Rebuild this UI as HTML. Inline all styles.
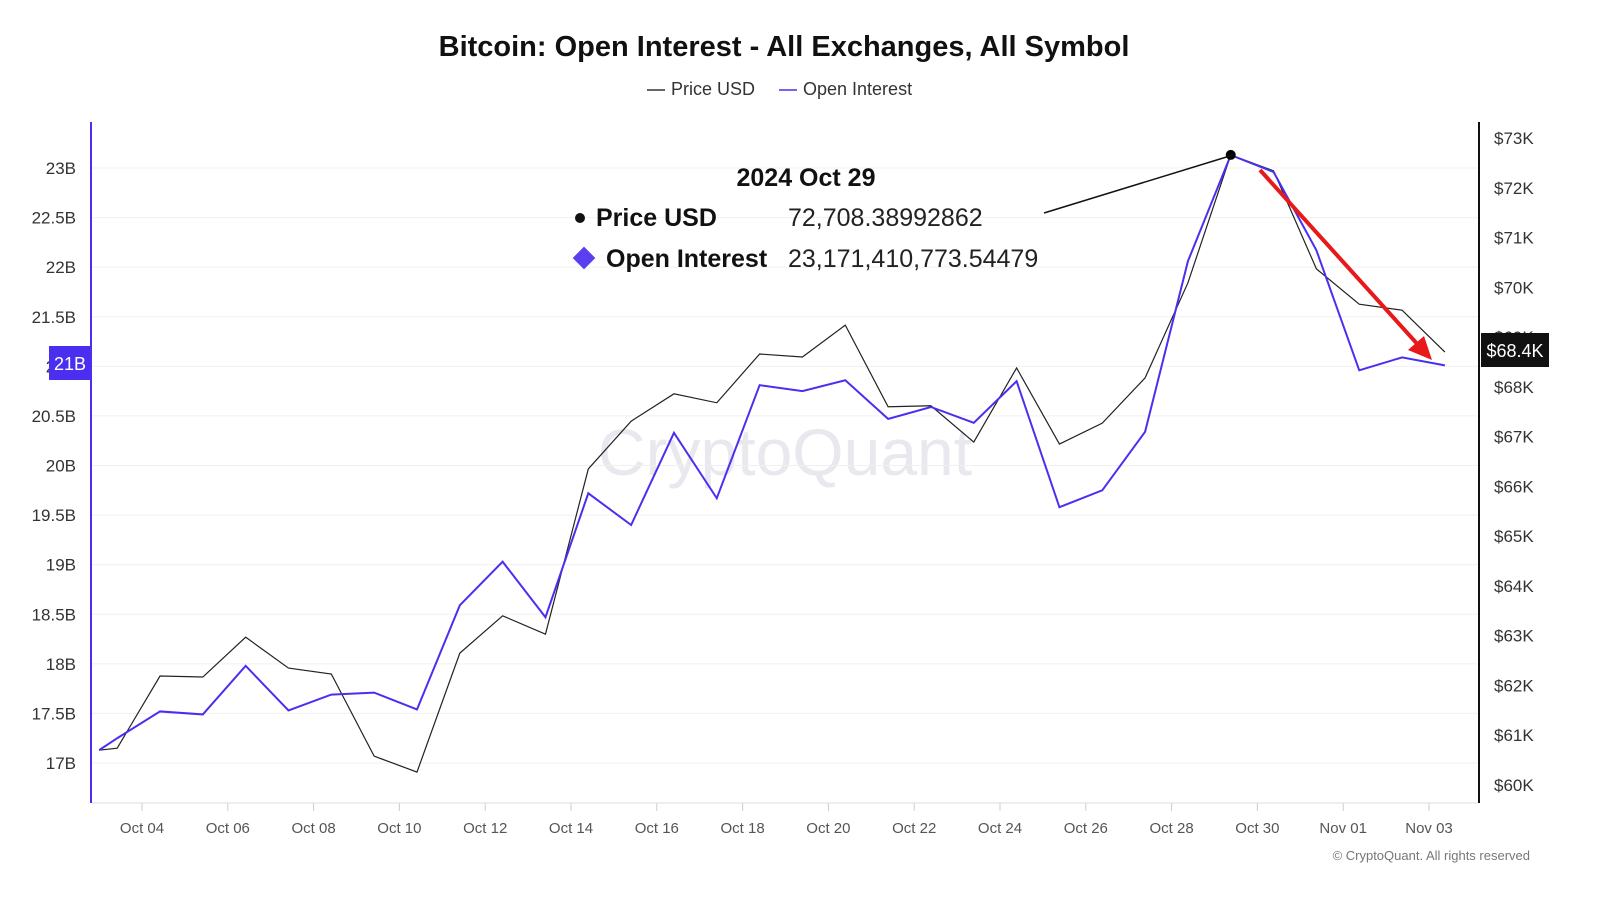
<!DOCTYPE html>
<html><head><meta charset="utf-8"><style>
body{margin:0;background:#fff;width:1600px;height:900px;overflow:hidden;font-family:"Liberation Sans",sans-serif}
svg text{font-family:"Liberation Sans",sans-serif}
</style></head><body>
<svg id="chart" width="1600" height="900">
<text x="784" y="56" text-anchor="middle" font-size="29" font-weight="bold" fill="#111">Bitcoin: Open Interest - All Exchanges, All Symbol</text>
<g>
<g><line x1="647" y1="90" x2="665" y2="90" stroke="#333" stroke-width="1.5"/><text x="671" y="95" font-size="18" fill="#333">Price USD</text></g>
<g><line x1="779" y1="90" x2="797" y2="90" stroke="#4a2ff0" stroke-width="1.5"/><text x="803" y="95" font-size="18" fill="#333">Open Interest</text></g>
</g>
<text x="785" y="475" text-anchor="middle" font-size="66" fill="#e8e8ee">CryptoQuant</text>
<g id="grid"></g><g id="axes"></g><g id="series"></g>
<g>
<line x1="1044" y1="213" x2="1233" y2="155" stroke="#111" stroke-width="1.5"/>
<text x="806" y="186" text-anchor="middle" font-size="25" font-weight="bold" fill="#111">2024 Oct 29</text>
<circle cx="580" cy="218" r="5" fill="#111"/>
<text x="596" y="226" font-size="25" font-weight="bold" fill="#111">Price USD</text>
<text x="788" y="226" font-size="25" fill="#222">72,708.38992862</text>
<rect x="576" y="250" width="16" height="16" fill="#5a3ff0" transform="rotate(45 584 258)"/>
<text x="606" y="267" font-size="25" font-weight="bold" fill="#111">Open Interest</text>
<text x="788" y="267" font-size="25" fill="#222">23,171,410,773.54479</text>
</g>
<g>
<line x1="1260" y1="170" x2="1420" y2="347" stroke="#e8191b" stroke-width="4"/>
<polygon points="1432,360 1408,350 1424,336" fill="#e8191b"/>
</g>
<rect x="1481" y="333" width="68" height="34" fill="#111"/>
<text x="1515" y="357" text-anchor="middle" font-size="18" fill="#fff">$68.4K</text>
<rect x="49" y="346" width="42" height="34" fill="#4a2ff0"/>
<text x="70" y="370" text-anchor="middle" font-size="18" fill="#fff">21B</text>
<text x="1530" y="860" text-anchor="end" font-size="13" fill="#777">© CryptoQuant. All rights reserved</text>
</svg>
<script>
const days=[-1.42,-1,0,1,2,3,4,5,6,7,8,9,10,11,12,13,14,15,16,17,18,19,20,21,22,23,24,25,26,27,28,29,30];
const oiValues=[17.13,17.25,17.52,17.49,17.98,17.53,17.69,17.71,17.54,18.59,19.03,18.47,19.72,19.40,20.33,19.67,20.81,20.75,20.86,20.47,20.59,20.43,20.85,19.58,19.75,20.34,22.06,23.13,22.96,22.17,20.96,21.09,21.01];
const priceValues=[60.70,60.74,62.19,62.17,62.97,62.35,62.23,60.58,60.26,62.65,63.40,63.03,66.35,67.31,67.86,67.68,68.66,68.60,69.24,67.60,67.62,66.89,68.38,66.85,67.27,68.18,70.09,72.66,72.34,70.37,69.66,69.54,68.70];
const leftTicks=[17,17.5,18,18.5,19,19.5,20,20.5,21,21.5,22,22.5,23];
const rightTicks=[60,61,62,63,64,65,66,67,68,69,70,71,72,73];
const xLabels=["Oct 04","Oct 06","Oct 08","Oct 10","Oct 12","Oct 14","Oct 16","Oct 18","Oct 20","Oct 22","Oct 24","Oct 26","Oct 28","Oct 30","Nov 01","Nov 03"];
const NS="http://www.w3.org/2000/svg";
const xS=d=>160+42.83*d;
const tickX=i=>142+85.8*i;
const yL=v=>168+(23-v)*99.17;
const yR=v=>138+(73-v)*49.77;
function mk(t,a,p){const e=document.createElementNS(NS,t);for(const k in a)e.setAttribute(k,a[k]);p.appendChild(e);return e;}
const grid=document.getElementById('grid'),axes=document.getElementById('axes'),ser=document.getElementById('series');
leftTicks.forEach(v=>{
 const g=mk('line',{x1:92,x2:1478,y1:yL(v),y2:yL(v),stroke:'#f0f0f0'},grid);
 
 
 const t=mk('text',{x:76,y:yL(v)+6,'text-anchor':'end','font-size':17,fill:'#333'},axes);
 t.textContent=(v+'B');
 
 
});
rightTicks.forEach(v=>{
 const t=mk('text',{x:1494,y:yR(v)+6,'font-size':17,fill:'#333'},axes);
 t.textContent='$'+v+'K';
 
 
});
xLabels.forEach((s,i)=>{
 mk('line',{x1:tickX(i),x2:tickX(i),y1:803,y2:811,stroke:'#ccc'},axes);
 const t=mk('text',{x:tickX(i),y:833,'text-anchor':'middle','font-size':15,fill:'#555'},axes);
 t.textContent=s;
 
 
});
const bl=mk('line',{x1:92,x2:1478,y1:803,y2:803,stroke:'#ddd'},axes);


const la=mk('line',{x1:91,x2:91,y1:122,y2:803,stroke:'#4a2ff0','stroke-width':2},axes);


const ra=mk('line',{x1:1479,x2:1479,y1:122,y2:803,stroke:'#111','stroke-width':2},axes);


const pp=mk('polyline',{points:days.map((d,i)=>xS(d)+','+yR(priceValues[i])).join(' '),fill:'none',stroke:'#222','stroke-width':1.2},ser);


const op=mk('polyline',{points:days.map((d,i)=>xS(d)+','+yL(oiValues[i])).join(' '),fill:'none',stroke:'#4a2ff0','stroke-width':2},ser);


const hi=27;
const dot=mk('circle',{cx:xS(days[hi]),cy:yR(priceValues[hi]),r:5,fill:'#000'},ser);


</script>
</body></html>
